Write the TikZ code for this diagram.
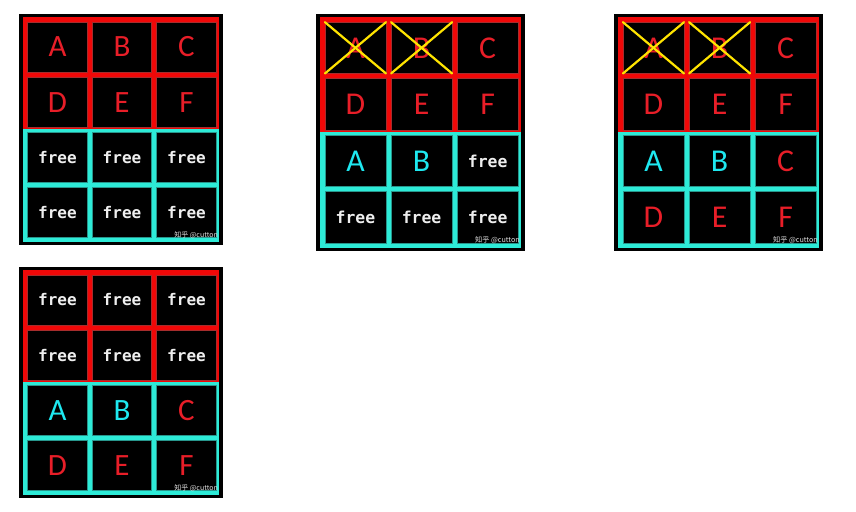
\documentclass[tikz,border=0pt]{standalone}
\usepackage{fontspec}
\setmainfont{Carlito}
\newfontfamily\freefont{DejaVu Sans Mono}
\newfontfamily\cjk{Noto Sans CJK SC}
\definecolor{regred}{RGB}{240,8,8}
\definecolor{regcyan}{RGB}{45,235,215}
\definecolor{cellred}{RGB}{165,45,45}
\definecolor{celltl}{RGB}{40,150,140}
\definecolor{letred}{RGB}{232,30,40}
\definecolor{letcyan}{RGB}{30,232,240}
\definecolor{freecol}{RGB}{238,238,238}
\definecolor{xyellow}{RGB}{255,228,0}
\newcommand{\rl}{\color{letred}\fontsize{31}{31}\selectfont}
\newcommand{\cl}{\color{letcyan}\fontsize{31}{31}\selectfont}
\newcommand{\fr}{\color{freecol}\freefont\bfseries\fontsize{16}{16}\selectfont}
\newcommand{\pframe}{%
  \path[fill=black] (0,0) rectangle (204,231);
  \path[fill=regred] (4,3) rectangle (200,115);
  \path[fill=regcyan] (4,115) rectangle (200,228);
}
\newcommand{\pcells}[3]{%
  \foreach \t [count=\i from 0] in {#2} {
    \pgfmathsetmacro\cx{38.5+mod(\i,3)*64.5}
    \pgfmathsetmacro\cy{33+int(\i/3)*55.17}
    \node[topcell] (#1-\i) at (\cx,\cy) {\t};
  }
  \foreach \t [count=\i from 6] in {#3} {
    \pgfmathsetmacro\cx{38.5+mod(\i,3)*64.5}
    \pgfmathsetmacro\cy{33+int(\i/3)*55.17}
    \node[botcell] (#1-\i) at (\cx,\cy) {\t};
  }
  \node[wm] (#1-wm) at (199,221) {知乎 @cutton};
}
\begin{document}
\begin{tikzpicture}[x=1pt,y=-1pt,
  cell/.style={minimum width=59.5pt,minimum height=50pt,inner sep=0pt,outer sep=0pt,fill=black,line width=0.8pt},
  topcell/.style={cell,draw=cellred},
  botcell/.style={cell,draw=celltl},
  xline/.style={draw=xyellow,line width=2.2pt,line cap=round},
  wm/.style={text=white!88!black,font=\cjk\fontsize{7}{7}\selectfont,inner sep=0pt,anchor=east}]
\useasboundingbox[fill=white] (0,0) rectangle (856,511);

% panel 1
\begin{scope}[shift={(19,14)}]
  \pframe
  \pcells{p1}{\rl A,\rl B,\rl C,\rl D,\rl E,\rl F}{\fr free,\fr free,\fr free,\fr free,\fr free,\fr free}
\end{scope}

% panel 2
\begin{scope}[shift={(316,14)},scale=1.025,transform shape]
  \pframe
  \pcells{p2}{\rl A,\rl B,\rl C,\rl D,\rl E,\rl F}{\cl A,\cl B,\fr free,\fr free,\fr free,\fr free}
\end{scope}
\draw[xline] (p2-0.north west) -- (p2-0.south east);
\draw[xline] (p2-0.south west) -- (p2-0.north east);
\draw[xline] (p2-1.north west) -- (p2-1.south east);
\draw[xline] (p2-1.south west) -- (p2-1.north east);

% panel 3
\begin{scope}[shift={(614,14)},scale=1.025,transform shape]
  \pframe
  \pcells{p3}{\rl A,\rl B,\rl C,\rl D,\rl E,\rl F}{\cl A,\cl B,\rl C,\rl D,\rl E,\rl F}
\end{scope}
\draw[xline] (p3-0.north west) -- (p3-0.south east);
\draw[xline] (p3-0.south west) -- (p3-0.north east);
\draw[xline] (p3-1.north west) -- (p3-1.south east);
\draw[xline] (p3-1.south west) -- (p3-1.north east);

% panel 4
\begin{scope}[shift={(19,267)}]
  \pframe
  \pcells{p4}{\fr free,\fr free,\fr free,\fr free,\fr free,\fr free}{\cl A,\cl B,\rl C,\rl D,\rl E,\rl F}
\end{scope}
\end{tikzpicture}
\end{document}
